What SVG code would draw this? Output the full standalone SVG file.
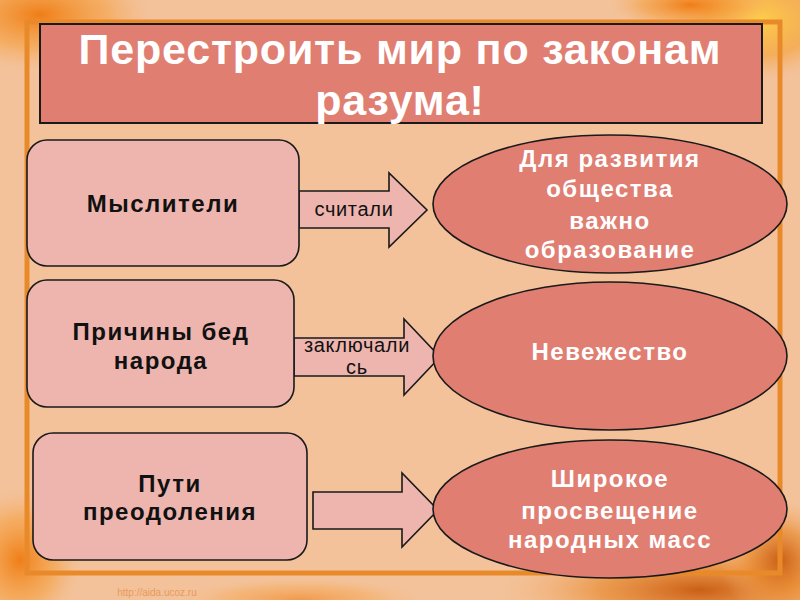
<svg xmlns="http://www.w3.org/2000/svg" width="800" height="600" viewBox="0 0 800 600">
  <defs>
    <style>
      .box { fill: #EEB5AE; stroke: #1a1a1a; stroke-width: 1.6; }
      .ell { fill: #E07E72; stroke: #1a1a1a; stroke-width: 1.6; }
      .arrow { fill: #EEB5AE; stroke: #1a1a1a; stroke-width: 1.6; stroke-linejoin: miter; }
      .btxt { font-family: "Liberation Sans", Arial, sans-serif; font-weight: bold; font-size: 24px; fill: #111; text-anchor: middle; letter-spacing: 1.5px; }
      .etxt { font-family: "Liberation Sans", Arial, sans-serif; font-weight: bold; font-size: 24px; fill: #fff; text-anchor: middle; letter-spacing: 1.5px; }
      .atxt { font-family: "Liberation Sans", Arial, sans-serif; font-size: 20px; fill: #111; text-anchor: middle; letter-spacing: 0.7px; }
      .title { font-family: "Liberation Sans", Arial, sans-serif; font-weight: bold; font-size: 43px; fill: #fff; text-anchor: middle; letter-spacing: 0.8px; }
    </style>
    <radialGradient id="leafTL" cx="0.5" cy="0.5" r="0.5">
      <stop offset="0" stop-color="#F07A10" stop-opacity="0.95"/>
      <stop offset="0.6" stop-color="#F5A040" stop-opacity="0.6"/>
      <stop offset="1" stop-color="#F5B070" stop-opacity="0"/>
    </radialGradient>
    <radialGradient id="leafY" cx="0.5" cy="0.5" r="0.5">
      <stop offset="0" stop-color="#FFD040" stop-opacity="0.9"/>
      <stop offset="0.6" stop-color="#F5A030" stop-opacity="0.6"/>
      <stop offset="1" stop-color="#F5B070" stop-opacity="0"/>
    </radialGradient>
    <radialGradient id="leafBR" cx="0.5" cy="0.5" r="0.5">
      <stop offset="0" stop-color="#C85A10" stop-opacity="0.95"/>
      <stop offset="0.5" stop-color="#E88A30" stop-opacity="0.7"/>
      <stop offset="1" stop-color="#F5B070" stop-opacity="0"/>
    </radialGradient>
  </defs>

  <!-- background -->
  <rect x="0" y="0" width="800" height="600" fill="#F3C29A"/>
  <ellipse cx="40" cy="15" rx="110" ry="55" fill="url(#leafTL)"/>
  <ellipse cx="760" cy="20" rx="90" ry="60" fill="url(#leafY)"/>
  <ellipse cx="690" cy="5" rx="80" ry="25" fill="url(#leafTL)"/>
  <ellipse cx="700" cy="590" rx="200" ry="50" fill="url(#leafBR)"/>
  <ellipse cx="780" cy="560" rx="60" ry="60" fill="url(#leafBR)"/>
  <ellipse cx="20" cy="560" rx="60" ry="70" fill="url(#leafTL)"/>
  <ellipse cx="300" cy="600" rx="120" ry="22" fill="url(#leafTL)" opacity="0.6"/>

  <!-- frame -->
  <rect x="27" y="22" width="753" height="551" fill="none" stroke="#E98A2A" stroke-width="5"/>

  <text x="157" y="596" font-family="Liberation Sans, Arial, sans-serif" font-size="10" fill="#E89A5A" text-anchor="middle">http://aida.ucoz.ru</text>

  <!-- title -->
  <g id="title">
    <rect x="40" y="24" width="722" height="99" fill="#E07E72" stroke="#1a1a1a" stroke-width="2"/>
    <text class="title" x="400" y="64">Перестроить мир по законам</text>
    <text class="title" x="400" y="115">разума!</text>
  </g>

  <!-- connectors -->
  <g id="connectors">
    <polygon class="arrow" points="299,191 389,191 389,173 427,210 389,247 389,228 299,228"/>
    <text class="atxt" x="354" y="216">считали</text>
    <polygon class="arrow" points="294,338 404,338 404,319 440,357 404,395 404,376 294,376"/>
    <text class="atxt" x="357" y="352">заключали</text>
    <text class="atxt" x="357" y="374">сь</text>
    <polygon class="arrow" points="313,492 402,492 402,473 438,510 402,547 402,529 313,529"/>
  </g>

  <!-- left nodes -->
  <g id="node-thinkers">
    <rect class="box" x="27" y="140" width="272" height="126" rx="20" ry="20"/>
    <text class="btxt" x="163" y="212">Мыслители</text>
  </g>
  <g id="node-causes">
    <rect class="box" x="27" y="280" width="267" height="127" rx="20" ry="20"/>
    <text class="btxt" x="161" y="340">Причины бед</text>
    <text class="btxt" x="161" y="369">народа</text>
  </g>
  <g id="node-ways">
    <rect class="box" x="33" y="433" width="274" height="127" rx="20" ry="20"/>
    <text class="btxt" x="170" y="492">Пути</text>
    <text class="btxt" x="170" y="520">преодоления</text>
  </g>

  <!-- right nodes -->
  <g id="node-education">
    <ellipse class="ell" cx="610" cy="204" rx="177" ry="69"/>
    <text class="etxt" x="610" y="167">Для развития</text>
    <text class="etxt" x="610" y="197">общества</text>
    <text class="etxt" x="610" y="229">важно</text>
    <text class="etxt" x="610" y="258">образование</text>
  </g>
  <g id="node-ignorance">
    <ellipse class="ell" cx="610" cy="356" rx="177" ry="74"/>
    <text class="etxt" x="610" y="360">Невежество</text>
  </g>
  <g id="node-enlightenment">
    <ellipse class="ell" cx="610" cy="509" rx="177" ry="69"/>
    <text class="etxt" x="610" y="487">Широкое</text>
    <text class="etxt" x="610" y="519">просвещение</text>
    <text class="etxt" x="610" y="548">народных масс</text>
  </g>
</svg>
